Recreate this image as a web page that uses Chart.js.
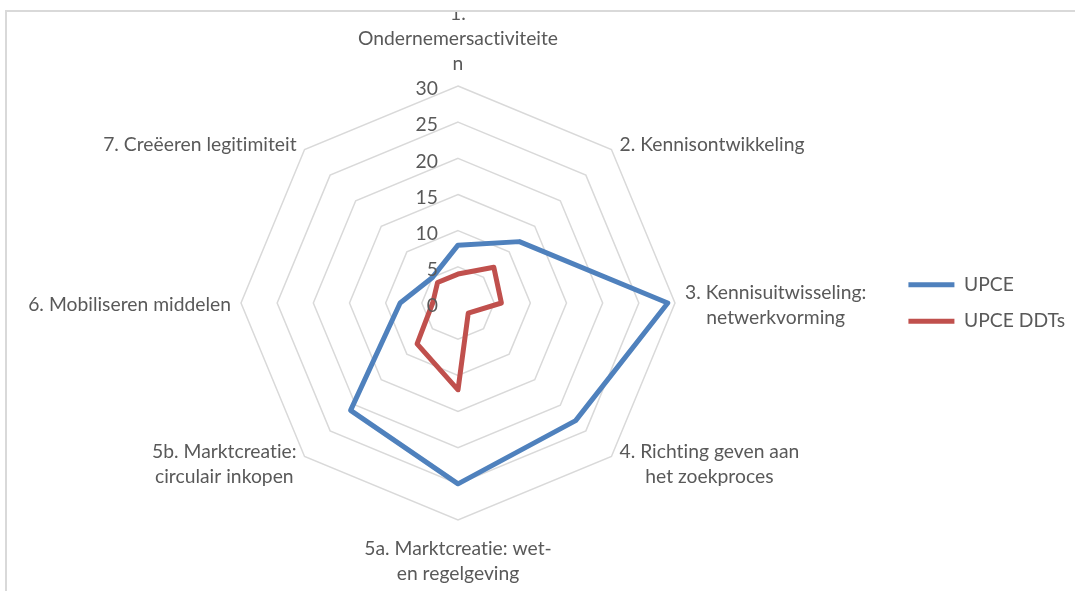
<!DOCTYPE html>
<html>
<head>
<meta charset="utf-8">
<script src="https://cdn.jsdelivr.net/npm/chart.js@4/dist/chart.umd.min.js"></script>
<style>
  html, body { margin:0; padding:0; background:#fff; overflow:hidden; }
  #frame { position:absolute; left:5px; top:10px; width:1200px; height:700px;
           border-left:2px solid #d9d9d9; border-top:2px solid #d9d9d9; overflow:hidden; }
  #holder { position:absolute; left:-7px; top:-12px; width:1075px; height:591px; }
</style>
</head>
<body>
<div id="frame"><div id="holder"><canvas id="c"></canvas></div></div>
<script>
// ---- data ----
const categories = [
  ["1.", "Ondernemersactiviteite", "n"],
  "2. Kennisontwikkeling",
  ["3. Kennisuitwisseling:", "netwerkvorming"],
  ["4. Richting geven aan", "het zoekproces"],
  ["5a. Marktcreatie: wet-", "en regelgeving"],
  ["5b. Marktcreatie:", "circulair inkopen"],
  "6. Mobiliseren middelen",
  "7. Creëeren legitimiteit"
];
const seriesNames = ["UPCE", "UPCE DDTs"];
const upce = [8, 12, 29, 23, 25, 21, 8, 5];
const upceDDTs = [4, 7, 6, 2, 12, 8, 3.5, 4];
const tickValues = [0, 5, 10, 15, 20, 25, 30];

// ---- style ----
const FAMILY = 'Lato, "Open Sans", sans-serif';
const TEXT = '#595959';
const BLUE = '#4F81BD';
const RED = '#C0504D';
const LH = 25;

const mctx = document.createElement('canvas').getContext('2d');
mctx.font = '100px ' + FAMILY;
let FS = Math.round(100 * 200 / mctx.measureText('Ondernemersactiviteite').width * 10) / 10;

Chart.defaults.font.family = FAMILY;
Chart.defaults.font.size = FS;
Chart.defaults.color = TEXT;

const axisText = {
  id: 'axisText',
  afterDraw(chart) {
    const s = chart.scales.r, ctx = chart.ctx;
    ctx.save();
    ctx.fillStyle = TEXT;
    ctx.font = FS + 'px ' + FAMILY;
    if ('letterSpacing' in ctx) ctx.letterSpacing = '0.01px';
    ctx.textBaseline = 'middle';
    ctx.textAlign = 'right';
    s.ticks.forEach(t => {
      const d = s.getDistanceFromCenterForValue(t.value);
      ctx.fillText(String(t.value), s.xCenter - 20, s.yCenter - d + 3);
    });
    const R = s.drawingArea;
    ctx.textAlign = 'center';
    chart.data.labels.forEach((lab, i) => {
      const lines = Array.isArray(lab) ? lab : [lab];
      const p = s.getPointPosition(i, R);
      const dx = p.x - s.xCenter, dy = p.y - s.yCenter;
      const bw = Math.max(...lines.map(l => ctx.measureText(l).width));
      const bh = lines.length * LH;
      let cx, cy;
      if (Math.abs(dx) < 1) {
        cx = p.x;
        cy = dy < 0 ? p.y - 10 - bh / 2 : p.y + 16 + bh / 2;
      } else {
        const side = Math.sign(dx);
        let gap, off;
        if (Math.abs(dy) < 1) { gap = 10; off = 2; }
        else if (dy < 0) { gap = 8; off = -5; }
        else { gap = 8; off = 8; }
        cx = p.x + side * (gap + bw / 2);
        cy = p.y + off;
      }
      lines.forEach((l, k) => ctx.fillText(l, cx, cy - bh / 2 + LH * (k + 0.5)));
    });
    ctx.restore();
  }
};

const chart = new Chart(document.getElementById('c'), {
  type: 'radar',
  data: {
    labels: categories,
    datasets: [
      { label: seriesNames[0], data: upce, borderColor: BLUE, backgroundColor: BLUE,
        borderWidth: 5, pointRadius: 0, pointHoverRadius: 0, fill: false, borderJoinStyle: 'round' },
      { label: seriesNames[1], data: upceDDTs, borderColor: RED, backgroundColor: RED,
        borderWidth: 5, pointRadius: 0, pointHoverRadius: 0, fill: false, borderJoinStyle: 'round' }
    ]
  },
  options: {
    responsive: true,
    maintainAspectRatio: false,
    animation: false,
    layout: { padding: { left: 0, right: 0, top: 86, bottom: 71 } },
    plugins: {
      tooltip: { enabled: false },
      legend: {
        position: 'right',
        labels: {
          boxWidth: 46, boxHeight: 5, padding: 17, color: TEXT,
          font: { size: FS, family: FAMILY },
          generateLabels: (c) => Chart.defaults.plugins.legend.labels.generateLabels(c)
            .map(l => Object.assign(l, { lineWidth: 0, fillStyle: l.strokeStyle }))
        }
      }
    },
    scales: {
      r: {
        min: tickValues[0],
        max: tickValues[tickValues.length - 1],
        ticks: { display: false, stepSize: tickValues[1] - tickValues[0] },
        pointLabels: { display: false },
        angleLines: { display: false },
        grid: { color: '#d9d9d9', lineWidth: 1.5 }
      }
    }
  },
  plugins: [axisText]
});

// layout tuning: legend items start near x=915, radar centre at x=458
for (let k = 0; k < 3; k++) {
  const lg = chart.legend;
  const lp = chart.options.plugins.legend.labels.padding;
  const pr = Math.max(0, 1075 - lg.width - (915 - lp));
  chart.options.layout.padding.right = pr;
  chart.update();
  const s = chart.scales.r;
  chart.options.layout.padding.left += 2 * (458 - s.xCenter);
  chart.update();
}
</script>
</body>
</html>
